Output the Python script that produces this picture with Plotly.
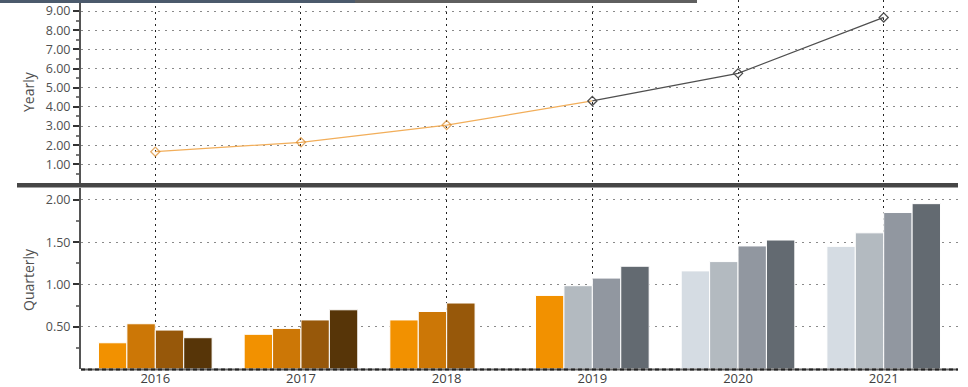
import plotly.graph_objects as go

years = [2016, 2017, 2018, 2019, 2020, 2021]
yearly = [1.66, 2.15, 3.05, 4.31, 5.75, 8.67]

q1 = [0.31, 0.41, 0.58, 0.87, 1.16, 1.45]
q2 = [0.535, 0.48, 0.68, 0.985, 1.27, 1.61]
q3 = [0.46, 0.58, 0.78, 1.075, 1.455, 1.85]
q4 = [0.37, 0.70, None, 1.215, 1.525, 1.955]

orange_q = ["#F29100", "#CC7706", "#97580A", "#573508"]
grey_q = ["#D5DCE3", "#B3BAC0", "#9197A0", "#636A71"]
# which years are "actual" (orange) per quarter
actual = {0: [2016, 2017, 2018, 2019], 1: [2016, 2017, 2018],
          2: [2016, 2017, 2018], 3: [2016, 2017, 2018]}

W, H = 968, 387
def py(p):
    return 1 - p / H

fig = go.Figure()

# Yearly line
fig.add_trace(go.Scatter(
    x=years[:4], y=yearly[:4], mode="lines+markers",
    line=dict(color="#F2AE5A", width=1.3),
    marker=dict(symbol="diamond-open", size=[7, 7, 7, 0], color="#D9892A", line=dict(width=1.3)),
    xaxis="x", yaxis="y", showlegend=False, hoverinfo="x+y"))
fig.add_trace(go.Scatter(
    x=years[3:], y=yearly[3:], mode="lines+markers",
    line=dict(color="#4F4F4F", width=1.3),
    marker=dict(symbol="diamond-open", size=7, color="#4F4F4F", line=dict(width=1.3)),
    xaxis="x", yaxis="y", showlegend=False, hoverinfo="x+y"))

# Quarterly bars
for qi, vals in enumerate([q1, q2, q3, q4]):
    cols = [orange_q[qi] if y in actual[qi] else grey_q[qi] for y in years]
    fig.add_trace(go.Bar(
        x=years, y=vals, name=f"Q{qi+1}",
        marker=dict(color=cols, line=dict(color="white", width=1)),
        xaxis="x2", yaxis="y2", showlegend=False))

xdom = [81 / W, 958 / W]
xrange_ = [2015.49, 2021.51]
tickfont = dict(family="Open Sans, Noto Sans, sans-serif", size=12.5, color="#505050")

common_x = dict(range=xrange_, domain=xdom, tickvals=years, showgrid=True,
                gridcolor="#222222", griddash="2px,4px", gridwidth=1,
                zeroline=False, showline=False, ticks="")

fig.update_layout(
    width=W, height=H,
    margin=dict(l=0, r=0, t=0, b=0),
    paper_bgcolor="white", plot_bgcolor="white",
    barmode="group", bargap=0.22, bargroupgap=0,
    xaxis=dict(**common_x, anchor="y", showticklabels=False),
    xaxis2=dict(**common_x, anchor="y2", showticklabels=True,
                ticktext=[str(y) for y in years],
                tickfont=dict(family="Open Sans, Noto Sans, sans-serif", size=13, color="#404040")),
    yaxis=dict(domain=[py(183.5), py(0)], range=[0, 9.58], anchor="x",
               tickvals=[1, 2, 3, 4, 5, 6, 7, 8, 9], tickformat=".2f",
               showgrid=True, gridcolor="#8A8A8A", griddash="2px,5px", gridwidth=1,
               zeroline=False, showline=True, linecolor="#555555", linewidth=2,
               ticks="outside", ticklen=6, tickwidth=2, tickcolor="#333333",
               minor=dict(tickvals=[0.5 + i for i in range(9)], ticks="outside", ticklen=3, tickcolor="#777777", showgrid=False),
               tickfont=tickfont),
    yaxis2=dict(domain=[py(369), py(188)], range=[0, 2.14], anchor="x2",
                tickvals=[0.5, 1.0, 1.5, 2.0], tickformat=".2f",
                showgrid=True, gridcolor="#8A8A8A", griddash="2px,5px", gridwidth=1,
                zeroline=False, showline=True, linecolor="#555555", linewidth=2,
                ticks="outside", ticklen=6, tickwidth=2, tickcolor="#333333",
                minor=dict(tickvals=[0.25, 0.75, 1.25, 1.75], ticks="outside", ticklen=3, tickcolor="#777777", showgrid=False),
                tickfont=tickfont),
    shapes=[
        # divider bar
        dict(type="rect", xref="paper", yref="paper", x0=17 / W, x1=958 / W,
             y0=py(187.5), y1=py(183), fillcolor="#464646", line=dict(width=0), layer="above"),
        # bottom axis line
        dict(type="line", xref="paper", yref="paper", x0=81 / W, x1=958 / W,
             y0=py(369.5), y1=py(369.5), line=dict(color="#666666", width=2)),
        dict(type="line", xref="paper", yref="paper", x0=81 / W, x1=958 / W,
             y0=py(369.5), y1=py(369.5), line=dict(color="#222222", width=2, dash="4px,3px")),
        # top banner
        dict(type="rect", xref="paper", yref="paper", x0=0, x1=355 / W,
             y0=py(3), y1=1, fillcolor="#4B5A6C", line=dict(width=0)),
        dict(type="rect", xref="paper", yref="paper", x0=355 / W, x1=697 / W,
             y0=py(3), y1=1, fillcolor="#5F5F5F", line=dict(width=0)),
    ],
    annotations=[
        dict(text="Yearly", xref="paper", yref="paper", x=28 / W, y=py(92),
             textangle=-90, showarrow=False, xanchor="center", yanchor="middle",
             font=dict(family="Open Sans, Noto Sans, sans-serif", size=14, color="#505050")),
        dict(text="Quarterly", xref="paper", yref="paper", x=28 / W, y=py(280),
             textangle=-90, showarrow=False, xanchor="center", yanchor="middle",
             font=dict(family="Open Sans, Noto Sans, sans-serif", size=14, color="#505050")),
    ],
)

fig.write_html("out.html", config={"displayModeBar": False},
               post_script="document.body.style.margin='0';document.body.style.padding='0';")
